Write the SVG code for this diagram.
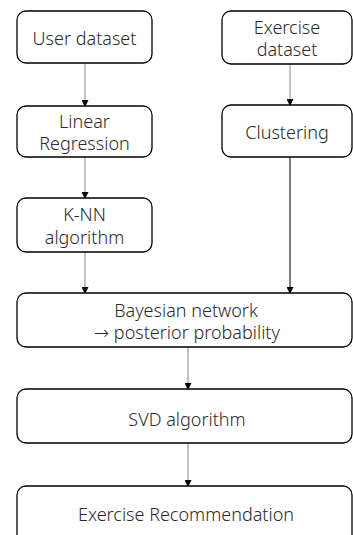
<svg xmlns="http://www.w3.org/2000/svg" width="353" height="535" viewBox="0 0 353 535">
<style>
.box{fill:#fff;stroke:#000;stroke-width:1.3}
.t{font-family:"Noto Sans","Liberation Sans",sans-serif;font-size:18px;font-weight:300;fill:#2a2a2a;text-anchor:middle;dominant-baseline:central}
.ar{font-family:"DejaVu Sans",sans-serif}
.c{stroke:#888;stroke-width:1;fill:none;marker-end:url(#ah)}
.cb{stroke:#000;stroke-width:1;fill:none;marker-end:url(#ah)}
</style>
<defs>
<marker id="ah" markerWidth="7" markerHeight="7" refX="6" refY="3.5" orient="auto" markerUnits="userSpaceOnUse">
<path d="M0,0 L7,3.5 L0,7 Z" fill="#000"/>
</marker>
</defs>
<rect width="353" height="535" fill="#fff"/>
<g id="connectors">
<line class="c" x1="85" y1="63" x2="85" y2="106"/>
<line class="c" x1="290" y1="64" x2="290" y2="105"/>
<line class="c" x1="85" y1="157" x2="85" y2="198"/>
<line class="c" x1="85" y1="252" x2="85" y2="293"/>
<line class="cb" x1="290" y1="157" x2="290" y2="293"/>
<line class="c" x1="188" y1="347" x2="188" y2="389"/>
<line class="c" x1="188" y1="443" x2="188" y2="486"/>
</g>
<g id="user">
<rect class="box" x="17" y="11" width="135" height="52" rx="9"/>
<text class="t" x="84.5" y="38">User dataset</text>
</g>
<g id="exercise">
<rect class="box" x="222" y="11" width="130" height="53" rx="9"/>
<text class="t" x="287" y="27">Exercise</text>
<text class="t" x="287" y="49">dataset</text>
</g>
<g id="linreg">
<rect class="box" x="17" y="106" width="135" height="51" rx="9"/>
<text class="t" x="84.5" y="121">Linear</text>
<text class="t" x="84.5" y="143">Regression</text>
</g>
<g id="clustering">
<rect class="box" x="222" y="105" width="130" height="52" rx="9"/>
<text class="t" x="287" y="132">Clustering</text>
</g>
<g id="knn">
<rect class="box" x="17" y="198" width="135" height="54" rx="9"/>
<text class="t" x="84.5" y="214">K-NN</text>
<text class="t" x="84.5" y="237">algorithm</text>
</g>
<g id="bayes">
<rect class="box" x="17" y="293" width="335" height="54" rx="9"/>
<text class="t" x="186" y="310">Bayesian network</text>
<text class="t" x="187" y="332"><tspan class="ar">→</tspan> posterior probability</text>
</g>
<g id="svd">
<rect class="box" x="17" y="389" width="335" height="54" rx="9"/>
<text class="t" x="187" y="419">SVD algorithm</text>
</g>
<g id="rec">
<rect class="box" x="17" y="486" width="335" height="60" rx="9"/>
<text class="t" x="186" y="514">Exercise Recommendation</text>
</g>
</svg>
